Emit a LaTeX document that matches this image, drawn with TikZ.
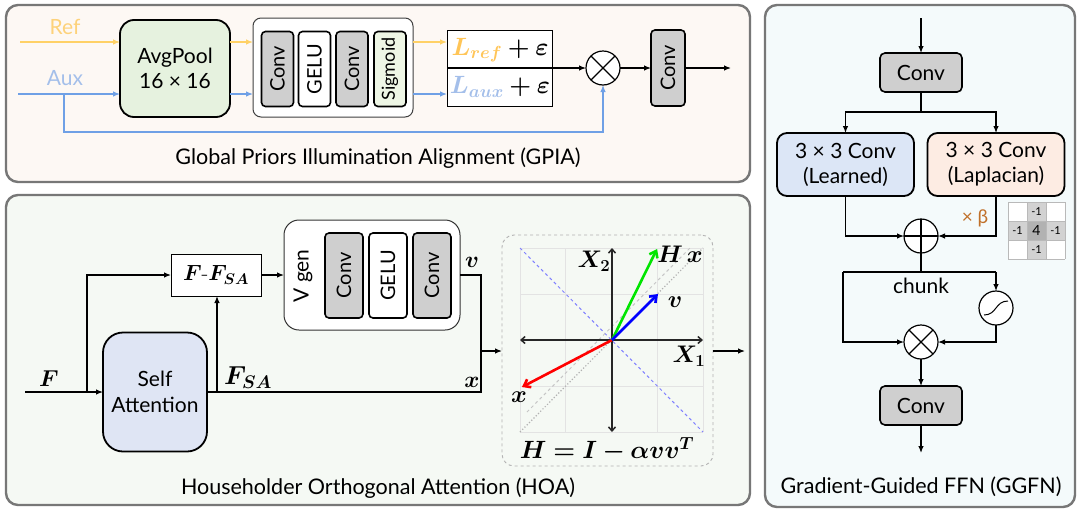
\RequirePackage{fix-cm}
\documentclass[tikz,border=0pt]{standalone}
\usepackage{amsmath}
\usepackage{bm}
\usepackage{fontspec}
\setsansfont{Lato}
\usetikzlibrary{arrows.meta,calc}
\definecolor{bgA}{HTML}{FDF8F4}
\definecolor{bgB}{HTML}{F5F9F4}
\definecolor{bgC}{HTML}{F4FAFB}
\definecolor{refc}{HTML}{FFD166}
\definecolor{auxc}{HTML}{6FA0E6}
\definecolor{reft}{HTML}{FDD27A}
\definecolor{auxt}{HTML}{A4BFEA}
\definecolor{avgf}{HTML}{E6F2DF}
\definecolor{convg}{HTML}{CFCFCF}
\definecolor{sigf}{HTML}{EEF6E5}
\definecolor{lrnf}{HTML}{DCE6F6}
\definecolor{lapf}{HTML}{FDECE3}
\definecolor{saf}{HTML}{DFE5F4}
\definecolor{panelc}{HTML}{777777}
\definecolor{betac}{HTML}{C0702A}
\newcommand\fsz[2]{\fontsize{#1}{#2}\selectfont}
\tikzset{
  panel/.style={draw=panelc, line width=2.4pt, rounded corners=12pt, inner sep=0pt, outer sep=0pt},
  arr/.style={-{Latex[length=7pt,width=5.5pt]}, line width=1.2pt},
  ln/.style={line width=1.2pt},
  bigbox/.style={draw=black, line width=1.8pt, inner sep=0pt, outer sep=0pt, align=center, font=\sffamily\fsz{21}{25}},
  vblk/.style={draw=black, line width=1.6pt, rounded corners=4pt, inner sep=0pt, outer sep=0pt, rotate=90, font=\sffamily\fsz{20}{22}},
  hblk/.style={draw=black, line width=1.6pt, rounded corners=5pt, fill=convg, inner sep=0pt, outer sep=0pt, minimum width=82pt, minimum height=39pt, font=\sffamily\fsz{21}{24}},
  opc/.style={circle, draw=black, line width=1.2pt, fill=white, minimum size=34pt, inner sep=0pt, outer sep=0pt},
  title/.style={font=\sffamily\fsz{21.5}{24}, inner sep=0pt},
  lab/.style={inner sep=0pt, font=\fsz{23}{26}},
  vec/.style={-{Straight Barb[length=6pt,width=9pt]}, line width=2.6pt},
  axis/.style={{Straight Barb[length=4pt,width=7pt]}-{Straight Barb[length=4pt,width=7pt]}, line width=1.5pt, black!85},
}
\begin{document}
\begin{tikzpicture}[x=1pt, y=-1pt]
\useasboundingbox[fill=white] (0,0) rectangle (1080,512);

% ================= GPIA =================
\node[panel, fill=bgA, minimum width=744pt, minimum height=177pt] (gpia) at (378,93.5) {};
\node[inner sep=0pt, font=\sffamily\fsz{21}{24}, text=reft] (reftxt) at (65,27) {Ref};
\node[inner sep=0pt, font=\sffamily\fsz{21}{24}, text=auxt] (auxtxt) at (65,78) {Aux};
\coordinate (refin) at (20,42);
\coordinate (auxin) at (18,94);
\node[bigbox, fill=avgf, rounded corners=14pt, minimum width=110pt, minimum height=97pt] (avg) at (175,68.5) {AvgPool\\16 × 16};
\draw[arr, draw=refc] (refin) -- (refin -| avg.west);
\draw[arr, draw=auxc] (auxin) -- (auxin -| avg.west);

\node[draw=black!75, line width=1pt, rounded corners=8pt, fill=white, minimum width=160pt, minimum height=99pt, inner sep=0pt, outer sep=0pt] (stack) at (333,67.5) {};
\node[vblk, fill=convg, minimum width=75pt, minimum height=32pt] (sc1) at (277.5,69) {Conv};
\node[vblk, fill=white, minimum width=75pt, minimum height=32pt] (sg1) at (314.5,69) {GELU};
\node[vblk, fill=convg, minimum width=75pt, minimum height=32pt] (sc2) at (352,69) {Conv};
\node[vblk, fill=sigf, minimum width=75pt, minimum height=32pt, font=\sffamily\fsz{18}{20}] (ssg) at (390,69) {Sigmoid};
\draw[arr, draw=refc] (avg.east |- refin) -- (stack.west |- refin);
\draw[arr, draw=auxc] (avg.east |- auxin) -- (stack.west |- auxin);

\node[draw=black, line width=1pt, fill=white, minimum width=105pt, minimum height=76pt, inner sep=0pt, outer sep=0pt] (frac) at (499.5,68) {};
\draw[line width=2.2pt] (frac.west) -- (frac.east);
\node[lab, font=\fsz{25}{28}] (lref) at (500,50) {$\bm{\textcolor{refc!85!orange}{L_{ref}} + \varepsilon}$};
\node[lab, font=\fsz{25}{28}] (laux) at (500,87) {$\bm{\textcolor{auxt}{L_{aux}} + \varepsilon}$};
\draw[arr, draw=refc] (stack.east |- refin) -- (frac.west |- refin);
\draw[arr, draw=auxc] (stack.east |- auxin) -- (frac.west |- auxin);

\node[opc] (mul1) at (603,68) {};
\draw[line width=1.2pt] (mul1.north west) -- (mul1.south east) (mul1.north east) -- (mul1.south west);
\draw[arr] (frac.east) -- (mul1.west);
\node[vblk, fill=convg, minimum width=76pt, minimum height=34pt] (gconv) at (668,68) {Conv};
\draw[arr] (mul1.east) -- (gconv);
\coordinate (gout) at (731,68);
\draw[arr] (gconv) -- (gout);
\coordinate (auxbr) at (64,94);
\coordinate (auxlow) at (64,132);
\draw[arr, draw=auxc] (auxbr) -- (auxlow) -| (mul1.south);
\node[title] (t1) at (378,158) {Global Priors Illumination Alignment (GPIA)};

% ================= HOA =================
\node[panel, fill=bgB, minimum width=744pt, minimum height=310pt] (hoa) at (378,350) {};
\node[lab] (Flab) at (49,379) {$\bm{F}$};
\coordinate (Fin) at (25,392);
\node[bigbox, fill=saf, rounded corners=20pt, minimum width=104pt, minimum height=119pt, font=\sffamily\fsz{21}{26}] (sa) at (155,392) {Self\\Attention};
\draw[arr] (Fin) -- (sa.west);
\node[draw=black, line width=1pt, fill=white, minimum width=90pt, minimum height=42pt, inner sep=0pt, outer sep=0pt, font=\fsz{22}{24}] (ffsa) at (216,275) {$\bm{F\text{-}F_{SA}}$};
\coordinate (Fbr) at (87,392);
\draw[arr] (Fbr) |- (ffsa.west);
\coordinate (sabr) at (217,392);
\draw[arr] (sabr) -- (sabr |- ffsa.south);
\node[lab, font=\fsz{26}{28}] (FSAlab) at (248,378) {$\bm{F_{SA}}$};

\node[draw=black!80, line width=1pt, rounded corners=15pt, fill=white, minimum width=176pt, minimum height=110pt, inner sep=0pt, outer sep=0pt] (vgen) at (372,275) {};
\node[inner sep=0pt, rotate=90, font=\sffamily\fsz{21}{23}] (vgt) at (303,276) {V gen};
\node[vblk, fill=convg, minimum width=85pt, minimum height=38pt] (vc1) at (344,275.5) {Conv};
\node[vblk, fill=white, minimum width=85pt, minimum height=38pt] (vg1) at (388,275.5) {GELU};
\node[vblk, fill=convg, minimum width=85pt, minimum height=38pt] (vc2) at (432,275.5) {Conv};
\draw[arr] (ffsa.east) -- (vgen.west);
\coordinate (vj) at (481,275);
\coordinate (xj) at (481,392);
\coordinate (mj) at (481,351);
\draw[ln] (vgen.east) -- (vj) -- (xj) -- (sa.east);
\node[lab] (vlab) at (472,262) {$\bm{v}$};
\node[lab] (xlab) at (472,382) {$\bm{x}$};

\node[draw=gray!60, dashed, line width=0.9pt, rounded corners=12pt, minimum width=211pt, minimum height=231pt, inner sep=0pt, outer sep=0pt] (plot) at (607.5,350.5) {};
\draw[arr] (mj) -- (plot.west |- mj);
\foreach \i in {0,...,4} {
  \draw[gray!22, line width=1pt] ({520+45.75*\i},248) -- ({520+45.75*\i},432);
  \draw[gray!22, line width=1pt] (520,{248+46*\i}) -- (703,{248+46*\i});
}
\coordinate (O) at (612,340);
\draw[blue!50, dashed, line width=1pt] (520,248) -- (703,432);
\draw[gray!60, dotted, line width=1.2pt] (520,432) -- (703,248);
\draw[gray!45, dashed, line width=1pt] (527,412) -- (690,248);
\draw[axis] (520,340) -- (703,340);
\draw[axis] (612,248) -- (612,432);
\coordinate (xt) at (522,387);
\coordinate (hxt) at (657,249);
\coordinate (vt) at (658,294);
\draw[vec, red] (O) -- (xt);
\draw[vec, green!90!black] (O) -- (hxt);
\draw[vec, blue] (O) -- (vt);
\node[lab, font=\fsz{24}{26}] (X2) at (594,261) {$\bm{X_2}$};
\node[lab, font=\fsz{24}{26}] (X1) at (689,356) {$\bm{X_1}$};
\node[lab, font=\fsz{24}{26}] (Hx) at (680,254) {$\bm{H\,x}$};
\node[lab, font=\fsz{24}{26}] (vl2) at (675,302) {$\bm{v}$};
\node[lab, font=\fsz{24}{26}] (xl2) at (519,397) {$\bm{x}$};
\node[lab, font=\fsz{25}{28}] (form) at (607,450) {$\bm{H = I - \alpha v v^{T}}$};
\coordinate (hout) at (745,351);
\draw[arr] (plot.east |- hout) -- (hout);
\node[title] (t2) at (378,488) {Householder Orthogonal Attention (HOA)};

% ================= GGFN =================
\node[panel, fill=bgC, minimum width=310pt, minimum height=502pt] (gg) at (920,256) {};
\coordinate (gin) at (921,18);
\node[hblk] (gc1) at (921,72.5) {Conv};
\draw[arr] (gin) -- (gc1);
\coordinate (gs1) at (921,112);
\node[bigbox, fill=lrnf, rounded corners=10pt, minimum width=137pt, minimum height=63pt] (lrn) at (845.5,164.5) {3 × 3 Conv\\(Learned)};
\node[bigbox, fill=lapf, rounded corners=10pt, minimum width=137pt, minimum height=63pt] (lap) at (996,164.5) {3 × 3 Conv\\(Laplacian)};
\draw[ln] (gc1) -- (gs1);
\draw[arr] (gs1) -| (lrn.north);
\draw[arr] (gs1) -| (lap.north);
\node[opc] (add) at (921,236) {};
\draw[line width=1.2pt] (add.north) -- (add.south) (add.west) -- (add.east);
\draw[arr] (lrn.south) |- (add.west);
\draw[arr] (lap.south) |- (add.east);
\node[inner sep=0pt, font=\sffamily\fsz{19}{22}, text=betac] (beta) at (975,218) {× β};
% Laplacian kernel
\begin{scope}[font=\sffamily\fsz{11}{12}]
\fill[white] (1008,202) rectangle (1065,259);
\fill[gray!35] (1027,202) rectangle (1046,259);
\fill[gray!35] (1008,221) rectangle (1065,240);
\fill[gray!60] (1027,221) rectangle (1046,240);
\foreach \a in {0,1,2,3}{
  \draw[gray!55, line width=0.7pt] ({1008+19*\a},202) -- ({1008+19*\a},259);
  \draw[gray!55, line width=0.7pt] (1008,{202+19*\a}) -- (1065,{202+19*\a});
}
\node[inner sep=0pt] (k1) at (1036.5,211.5) {-1};
\node[inner sep=0pt] (k2) at (1017.5,230.5) {-1};
\node[inner sep=0pt, font=\sffamily\fsz{14}{15}] (k3) at (1036.5,230.5) {4};
\node[inner sep=0pt] (k4) at (1055.5,230.5) {-1};
\node[inner sep=0pt] (k5) at (1036.5,249.5) {-1};
\end{scope}

\coordinate (gs2) at (921,272);
\coordinate (cl) at (843,272);
\coordinate (cr) at (996,272);
\draw[ln] (add.south) -- (gs2);
\draw[ln] (cl) -- (cr);
\node[opc] (sig) at (996,308) {};
\draw[line width=1pt] ($(sig)+(-12,7)$) .. controls ($(sig)+(1,7)$) and ($(sig)+(-1,-7)$) .. ($(sig)+(12,-7)$);
\draw[arr] (cr) -- (sig.north);
\node[opc] (mul2) at (921,342) {};
\draw[line width=1.2pt] (mul2.north west) -- (mul2.south east) (mul2.north east) -- (mul2.south west);
\draw[arr] (cl) |- (mul2.west);
\draw[arr] (sig.south) |- (mul2.east);
\node[inner sep=0pt, font=\sffamily\fsz{21}{24}] (chunk) at (921,286) {chunk};
\node[hblk] (gc2) at (921,405.5) {Conv};
\draw[arr] (mul2) -- (gc2);
\coordinate (gend) at (921,453);
\draw[arr] (gc2) -- (gend);
\node[title] (t3) at (921,487) {Gradient-Guided FFN (GGFN)};
\end{tikzpicture}
\end{document}
